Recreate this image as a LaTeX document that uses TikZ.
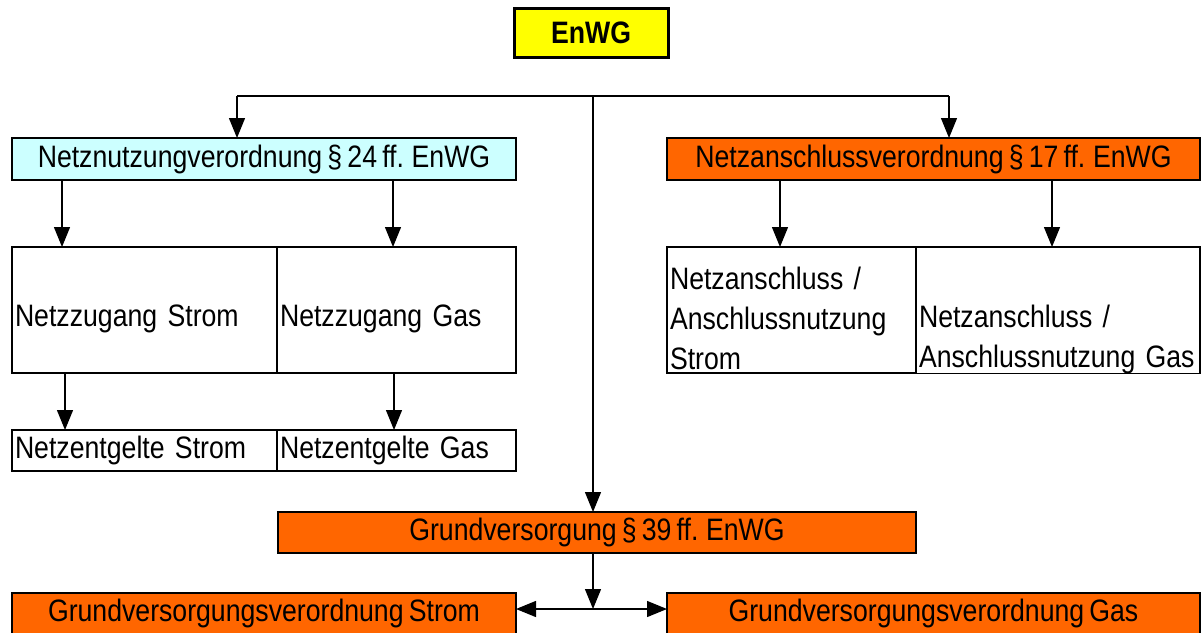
\documentclass[tikz,border=0pt]{standalone}
\usepackage{fontspec}
\setmainfont{Liberation Sans}[FakeStretch=0.86, WordSpace=0.7]
\usetikzlibrary{arrows.meta}
\definecolor{enwgYellow}{HTML}{FFFF00}
\definecolor{netzCyan}{HTML}{CCFFFF}
\definecolor{gvOrange}{HTML}{FF6600}
\newcommand\cellstrut{\rule{0pt}{40pt}}

\begin{document}
\begin{tikzpicture}[x=1pt, y=-1pt, font=\fontsize{31}{40}\selectfont,
    box/.style={rectangle, draw, line width=1.8pt, anchor=north west,
      inner sep=0pt, outer sep=0pt},
    cell/.style={box, align=left, inner xsep=3pt},
    tallcell/.style={cell, minimum height=126pt, execute at begin node={\cellstrut}},
    arr/.style={line width=1.3pt, -{Triangle[length=20pt, width=16pt]}}]
    \useasboundingbox (0,0) rectangle (1202,632);
    % --- EnWG oben ---
    \node[box, line width=3pt, fill=enwgYellow, minimum width=154pt, minimum height=49pt,
      font=\fontsize{31}{34}\selectfont\bfseries] (enwg) at (514,8) {EnWG};
    \coordinate (hub) at (593,96);
    \coordinate (hubL) at (237,96);
    \coordinate (hubR) at (949,96);
    % --- Netznutzung links ---
    \node[box, fill=netzCyan, minimum width=504pt, minimum height=42pt] (nn) at (12,138)
      {Netznutzungverordnung \S\,24 ff. EnWG};
    \node[tallcell, minimum width=265pt, text width=259pt] (zs) at (12,247)
      {Netzzugang Strom};
    \node[tallcell, minimum width=239pt, text width=233pt] (zg) at (277,247)
      {Netzzugang Gas};
    \node[cell, minimum width=265pt, minimum height=41pt, text width=259pt] (es) at (12,430)
      {Netzentgelte Strom};
    \node[cell, minimum width=239pt, minimum height=41pt, text width=233pt] (eg) at (277,430)
      {Netzentgelte Gas};
    % --- Netzanschluss rechts ---
    \node[box, fill=gvOrange, minimum width=533pt, minimum height=42pt] (na) at (667,138)
      {Netzanschlussverordnung \S\,17 ff. EnWG};
    \node[tallcell, minimum width=249pt, text width=243pt] (as) at (667,247)
      {Netzanschluss /\\Anschlussnutzung\\Strom};
    \node[tallcell, minimum width=284pt, text width=278pt] (ag) at (916,247)
      {\mbox{}\\Netzanschluss /\\Anschlussnutzung Gas};
    % --- Grundversorgung unten ---
    \node[box, fill=gvOrange, minimum width=638pt, minimum height=41pt] (gv) at (278,512)
      {Grundversorgung \S\,39 ff. EnWG};
    \node[box, fill=gvOrange, minimum width=504pt, minimum height=41pt] (gvs) at (12,593)
      {Grundversorgungsverordnung Strom};
    \node[box, fill=gvOrange, minimum width=533pt, minimum height=41pt] (gvg) at (667,593)
      {Grundversorgungsverordnung Gas};
    \coordinate (split) at (593,609);
    % --- Verbindungen ---
    \draw[line width=1.3pt] (hubL) -- (hubR);
    \draw[arr] (hubL) -- (hubL |- nn.north);
    \draw[arr] (hubR) -- (hubR |- na.north);
    \draw[arr] (hub) -- (hub |- gv.north);
    \draw[arr] ([xshift=50pt]nn.south west) -- ([xshift=50pt]zs.north west);
    \draw[arr] ([xshift=381pt]nn.south west) -- ([xshift=116pt]zg.north west);
    \draw[arr] ([xshift=53pt]zs.south west) -- ([xshift=53pt]es.north west);
    \draw[arr] ([xshift=117pt]zg.south west) -- ([xshift=117pt]eg.north west);
    \draw[arr] ([xshift=113pt]na.south west) -- ([xshift=113pt]as.north west);
    \draw[arr] ([xshift=385pt]na.south west) -- ([xshift=136pt]ag.north west);
    \draw[arr] (gv.south -| hub) -- (split);
    \draw[arr] (split) -- (split -| gvs.east);
    \draw[arr] (split) -- (split -| gvg.west);
  \end{tikzpicture}
\end{document}
